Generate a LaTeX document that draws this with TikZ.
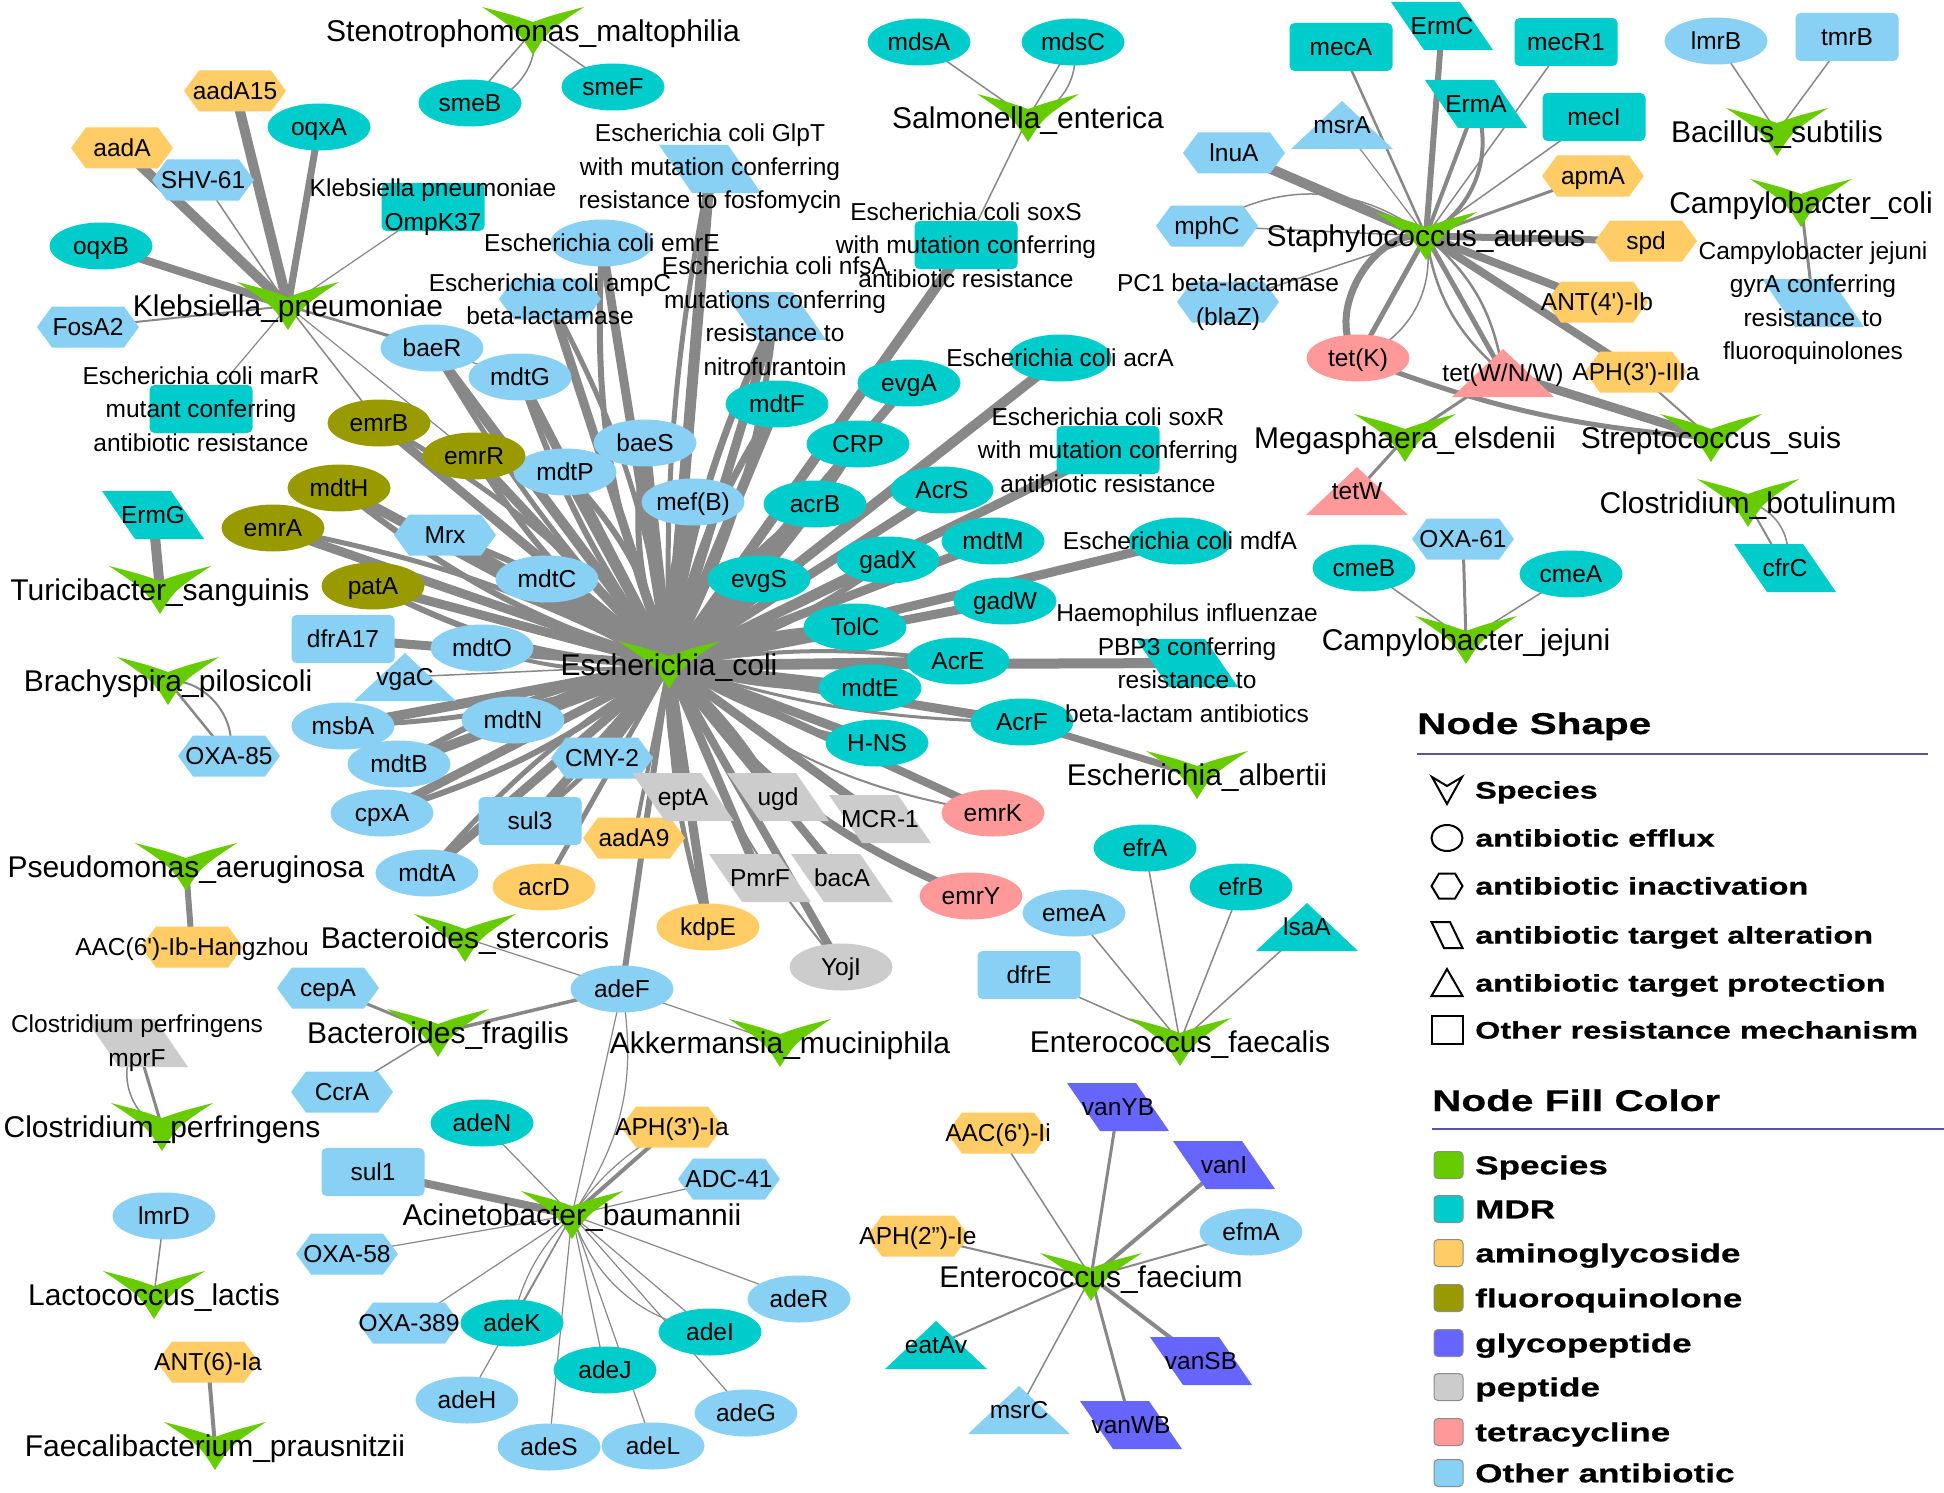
\documentclass[tikz,border=0pt]{standalone}
\usepackage{fontspec}
\setmainfont{Liberation Sans}
\newfontfamily\legf[FakeStretch=1.35,FakeBold=0.6]{Liberation Sans}
\usetikzlibrary{shapes.geometric}
\pgfdeclarelayer{edges}
\pgfdeclarelayer{labels}
\pgfsetlayers{edges,main,labels}
\definecolor{spc}{RGB}{102,204,0}
\definecolor{mdr}{RGB}{0,204,204}
\definecolor{ami}{RGB}{255,204,102}
\definecolor{flq}{RGB}{153,153,0}
\definecolor{gly}{RGB}{102,102,255}
\definecolor{pep}{RGB}{204,204,204}
\definecolor{tet}{RGB}{255,153,153}
\definecolor{oth}{RGB}{137,208,245}
\definecolor{edg}{RGB}{136,136,136}
\definecolor{legc}{RGB}{85,85,165}
\newcommand\sq{\textquotesingle}
\tikzset{
 shE/.pic={\fill[#1] (0,0) ellipse [x radius=51.5, y radius=23.5];},
 shH/.pic={\fill[#1] (-51,0) -- (-36,-20.5) -- (36,-20.5) -- (51,0) -- (36,20.5) -- (-36,20.5) -- cycle;},
 shP/.pic={\fill[#1] (-51,-24) -- (18,-24) -- (51,24) -- (-18,24) -- cycle;},
 shT/.pic={\fill[#1] (0,-24) -- (51,24) -- (-51,24) -- cycle;},
 shR/.pic={\fill[#1,rounded corners=5pt] (-51.5,-24) rectangle (51.5,24);},
 shV/.pic={\fill[#1] (-51,-24) .. controls (-20,-16) .. (0,-9) .. controls (20,-16) .. (51,-24) .. controls (15,0) .. (0,24) .. controls (-15,0) .. cycle;},
}
\newcommand\mkg[6]{\pic at (#2,#3) {#4=#5};\node[gbox] (#1) at (#2,#3) {};\begin{pgfonlayer}{labels}\node[glab] (#1-t) at (#2,#3) {#6};\end{pgfonlayer}}
\newcommand\mkgm[6]{\pic at (#2,#3) {#4=#5};\node[gbox] (#1) at (#2,#3) {};\begin{pgfonlayer}{labels}\node[glabm] (#1-t) at (#2,#3) {#6};\end{pgfonlayer}}
\newcommand\mks[4]{\pic at (#2,#3) {shV=spc};\node[gbox] (#1) at (#2,#3) {};\begin{pgfonlayer}{labels}\node[slab] (#1-t) at (#2,#3) {#4};\end{pgfonlayer}}
\begin{document}
\begin{tikzpicture}[x=1pt,y=-1pt,
 ed/.style={draw=edg,line width=#1},
 gbox/.style={rectangle,inner sep=0pt,minimum width=100pt,minimum height=46pt},
 glab/.style={font=\fontsize{24.5}{33.5}\selectfont,inner sep=0pt,text height=17.5pt,text depth=0pt},
 glabm/.style={font=\fontsize{24.5}{33.5}\selectfont,inner sep=0pt,align=center},
 slab/.style={font=\fontsize{30}{36}\selectfont,inner sep=0pt,text height=21.5pt,text depth=0pt},
 legt/.style={font=\legf\bfseries\fontsize{30}{36}\selectfont,inner sep=0pt,anchor=base west},
 legs/.style={font=\legf\bfseries\fontsize{24}{29}\selectfont,inner sep=0pt,anchor=base west},
 legk/.style={font=\legf\bfseries\fontsize{26}{31}\selectfont,inner sep=0pt,anchor=base west},
 lsym/.style={draw=black,line width=2pt},
 lbox/.style={draw=black!45,line width=1pt,rounded corners=4pt}]
\begin{pgfonlayer}{edges}
\fill[white] (0,0) rectangle (1944,1493);
\end{pgfonlayer}
\useasboundingbox (0,0) rectangle (1944,1493);

% ---------- species ----------
\mks{sm}{533}{31}{Stenotrophomonas\_maltophilia}
\mks{se}{1028}{118}{Salmonella\_enterica}
\mks{sa}{1426}{236}{Staphylococcus\_aureus}
\mks{bs}{1777}{132}{Bacillus\_subtilis}
\mks{cc}{1801}{203}{Campylobacter\_coli}
\mks{kp}{288}{306}{Klebsiella\_pneumoniae}
\mks{ec}{669}{665}{Escherichia\_coli}
\mks{me}{1405}{438}{Megasphaera\_elsdenii}
\mks{ss}{1711}{438}{Streptococcus\_suis}
\mks{cb}{1748}{503}{Clostridium\_botulinum}
\mks{ts}{160}{590}{Turicibacter\_sanguinis}
\mks{bp}{168}{681}{Brachyspira\_pilosicoli}
\mks{pa}{186}{867}{Pseudomonas\_aeruginosa}
\mks{bst}{465}{938}{Bacteroides\_stercoris}
\mks{bf}{438}{1033}{Bacteroides\_fragilis}
\mks{am}{780}{1043}{Akkermansia\_muciniphila}
\mks{cp}{162}{1127}{Clostridium\_perfringens}
\mks{ll}{154}{1295}{Lactococcus\_lactis}
\mks{fp}{215}{1446}{Faecalibacterium\_prausnitzii}
\mks{ab}{572}{1215}{Acinetobacter\_baumannii}
\mks{efs}{1180}{1042}{Enterococcus\_faecalis}
\mks{efm}{1091}{1277}{Enterococcus\_faecium}
\mks{ea}{1197}{775}{Escherichia\_albertii}
\mks{cj}{1466}{640}{Campylobacter\_jejuni}

% ---------- Klebsiella ----------
\mkg{aadAf}{235}{91}{shH}{ami}{aadA15}
\mkg{aadA}{122}{148}{shH}{ami}{aadA}
\mkg{oqxA}{319}{127}{shE}{mdr}{oqxA}
\mkg{shv}{203}{180}{shH}{oth}{SHV-61}
\mkg{oqxB}{101}{246}{shE}{mdr}{oqxB}
\mkg{fosA}{88}{327}{shH}{oth}{FosA2}
\mkgm{omp}{433}{207}{shR}{mdr}{Klebsiella pneumoniae\\OmpK37}
\mkgm{marR}{201}{409}{shR}{mdr}{Escherichia coli marR\\mutant conferring\\antibiotic resistance}
% ---------- Steno / Salmonella ----------
\mkg{smeB}{470}{103}{shE}{mdr}{smeB}
\mkg{smeF}{613}{87}{shE}{mdr}{smeF}
\mkg{mdsA}{919}{42}{shE}{mdr}{mdsA}
\mkg{mdsC}{1073}{42}{shE}{mdr}{mdsC}
\mkgm{soxS}{966}{245}{shR}{mdr}{Escherichia coli soxS\\with mutation conferring\\antibiotic resistance}
% ---------- Staph ----------
\mkg{mecA}{1341}{47}{shR}{mdr}{mecA}
\mkg{ermC}{1442}{26}{shP}{mdr}{ErmC}
\mkg{ermA}{1476}{104}{shP}{mdr}{ErmA}
\mkg{mecRa}{1566}{42}{shR}{mdr}{mecR1}
\mkg{mecI}{1594}{117}{shR}{mdr}{mecI}
\mkg{msrA}{1342}{125}{shT}{oth}{msrA}
\mkg{lnuA}{1234}{153}{shH}{oth}{lnuA}
\mkg{mphC}{1207}{226}{shH}{oth}{mphC}
\mkgm{blaZ}{1228}{302}{shH}{oth}{PC1 beta-lactamase\\(blaZ)}
\mkg{apmA}{1593}{176}{shH}{ami}{apmA}
\mkg{spd}{1646}{241}{shH}{ami}{spd}
\mkg{antb}{1597}{302}{shH}{ami}{ANT(4\sq)-Ib}
\mkg{aphc}{1636}{372}{shH}{ami}{APH(3\sq)-IIIa}
\mkg{tetK}{1358}{358}{shE}{tet}{tet(K)}
\mkg{tetWNW}{1503}{373}{shT}{tet}{tet(W/N/W)}
\mkg{tetW}{1357}{491}{shT}{tet}{tetW}
% ---------- right top ----------
\mkgm{gyrA}{1813}{303}{shP}{oth}{Campylobacter jejuni\\gyrA conferring\\resistance to\\fluoroquinolones}
\mkg{lmrB}{1716}{41}{shE}{oth}{lmrB}
\mkg{tmrB}{1847}{37}{shR}{oth}{tmrB}
\mkg{cfrC}{1785}{568}{shP}{mdr}{cfrC}
\mkg{oxasi}{1463}{539}{shH}{oth}{OXA-61}
\mkg{cmeB}{1364}{568}{shE}{mdr}{cmeB}
\mkg{cmeA}{1571}{574}{shE}{mdr}{cmeA}
% ---------- E. coli ----------
\mkgm{glpT}{710}{169}{shP}{oth}{Escherichia coli GlpT\\with mutation conferring\\resistance to fosfomycin}
\mkg{emrE}{602}{243}{shE}{oth}{Escherichia coli emrE}
\mkgm{ampC}{550}{299}{shH}{oth}{Escherichia coli ampC\\beta-lactamase}
\mkgm{nfsA}{775}{316}{shP}{oth}{Escherichia coli nfsA\\mutations conferring\\resistance to\\nitrofurantoin}
\mkg{acrA}{1060}{358}{shE}{mdr}{Escherichia coli acrA}
\mkgm{soxR}{1108}{450}{shR}{mdr}{Escherichia coli soxR\\with mutation conferring\\antibiotic resistance}
\mkg{mdfA}{1180}{541}{shE}{mdr}{Escherichia coli mdfA}
\mkgm{hae}{1187}{663}{shP}{mdr}{Haemophilus influenzae\\PBP3 conferring\\resistance to\\beta-lactam antibiotics}
\mkg{baeR}{432}{348}{shE}{oth}{baeR}
\mkg{mdtG}{520}{377}{shE}{oth}{mdtG}
\mkg{baeS}{645}{443}{shE}{oth}{baeS}
\mkg{mdtP}{565}{472}{shE}{oth}{mdtP}
\mkg{mdtF}{777}{404}{shE}{mdr}{mdtF}
\mkg{evgA}{909}{383}{shE}{mdr}{evgA}
\mkg{crp}{858}{444}{shE}{mdr}{CRP}
\mkg{emrB}{379}{423}{shE}{flq}{emrB}
\mkg{emrR}{474}{456}{shE}{flq}{emrR}
\mkg{mdtH}{339}{488}{shE}{flq}{mdtH}
\mkg{emrA}{273}{528}{shE}{flq}{emrA}
\mkg{mrx}{445}{535}{shH}{oth}{Mrx}
\mkg{patA}{373}{586}{shE}{flq}{patA}
\mkg{mdtC}{547}{579}{shE}{oth}{mdtC}
\mkg{dfr}{343}{639}{shR}{oth}{dfrA17}
\mkg{mdtO}{482}{648}{shE}{oth}{mdtO}
\mkg{vgaC}{405}{677}{shT}{oth}{vgaC}
\mkg{msbA}{343}{726}{shE}{oth}{msbA}
\mkg{mdtN}{513}{720}{shE}{oth}{mdtN}
\mkg{mdtB}{399}{764}{shE}{oth}{mdtB}
\mkg{cmy}{602}{758}{shH}{oth}{CMY-2}
\mkg{cpxA}{382}{813}{shE}{oth}{cpxA}
\mkg{sulc}{530}{821}{shR}{oth}{sul3}
\mkg{aadAn}{634}{838}{shH}{ami}{aadA9}
\mkg{mdtA}{427}{873}{shE}{oth}{mdtA}
\mkg{acrD}{544}{887}{shE}{ami}{acrD}
\mkg{kdpE}{708}{927}{shE}{ami}{kdpE}
\mkg{yojI}{841}{967}{shE}{pep}{YojI}
\mkg{eptA}{683}{797}{shP}{pep}{eptA}
\mkg{ugd}{778}{797}{shP}{pep}{ugd}
\mkg{mcr}{880}{819}{shP}{pep}{MCR-1}
\mkg{pmrF}{760}{878}{shP}{pep}{PmrF}
\mkg{bacA}{842}{878}{shP}{pep}{bacA}
\mkg{emrK}{993}{813}{shE}{tet}{emrK}
\mkg{emrY}{971}{896}{shE}{tet}{emrY}
\mkg{mefB}{693}{502}{shE}{oth}{mef(B)}
\mkg{acrB}{815}{504}{shE}{mdr}{acrB}
\mkg{acrS}{942}{490}{shE}{mdr}{AcrS}
\mkg{evgS}{759}{579}{shE}{mdr}{evgS}
\mkg{gadX}{888}{560}{shE}{mdr}{gadX}
\mkg{mdtM}{993}{541}{shE}{mdr}{mdtM}
\mkg{gadW}{1005}{601}{shE}{mdr}{gadW}
\mkg{tolC}{855}{627}{shE}{mdr}{TolC}
\mkg{acrE}{958}{661}{shE}{mdr}{AcrE}
\mkg{mdtE}{870}{688}{shE}{mdr}{mdtE}
\mkg{acrF}{1022}{722}{shE}{mdr}{AcrF}
\mkg{hns}{877}{743}{shE}{mdr}{H-NS}
\mkg{adeF}{622}{989}{shE}{oth}{adeF}
% ---------- left ----------
\mkg{ermG}{153}{515}{shP}{mdr}{ErmG}
\mkg{oxaef}{229}{756}{shH}{oth}{OXA-85}
\mkg{aacH}{192}{947}{shH}{ami}{AAC(6\sq)-Ib-Hangzhou}
\mkg{cepA}{328}{988}{shH}{oth}{cepA}
\mkg{ccrA}{342}{1092}{shH}{oth}{CcrA}
\mkgm{mprF}{137}{1043}{shP}{pep}{Clostridium perfringens\\mprF}
\mkg{lmrD}{164}{1216}{shE}{oth}{lmrD}
\mkg{antsix}{208}{1362}{shH}{ami}{ANT(6)-Ia}
% ---------- Acinetobacter ----------
\mkg{adeN}{482}{1123}{shE}{mdr}{adeN}
\mkg{sula}{373}{1172}{shR}{oth}{sul1}
\mkg{aphA}{672}{1127}{shH}{ami}{APH(3\sq)-Ia}
\mkg{adc}{729}{1179}{shH}{oth}{ADC-41}
\mkg{oxaff}{347}{1254}{shH}{oth}{OXA-58}
\mkg{oxatne}{409}{1323}{shH}{oth}{OXA-389}
\mkg{adeK}{512}{1323}{shE}{mdr}{adeK}
\mkg{adeH}{467}{1400}{shE}{oth}{adeH}
\mkg{adeJ}{605}{1370}{shE}{mdr}{adeJ}
\mkg{adeI}{710}{1332}{shE}{mdr}{adeI}
\mkg{adeR}{799}{1299}{shE}{oth}{adeR}
\mkg{adeG}{746}{1413}{shE}{oth}{adeG}
\mkg{adeS}{549}{1447}{shE}{oth}{adeS}
\mkg{adeL}{653}{1446}{shE}{oth}{adeL}
% ---------- Enterococcus ----------
\mkg{efrA}{1145}{848}{shE}{mdr}{efrA}
\mkg{efrB}{1241}{887}{shE}{mdr}{efrB}
\mkg{lsaA}{1307}{927}{shT}{mdr}{lsaA}
\mkg{emeA}{1074}{913}{shE}{oth}{emeA}
\mkg{dfrE}{1029}{975}{shR}{oth}{dfrE}
\mkg{vanYB}{1118}{1107}{shP}{gly}{vanYB}
\mkg{vanI}{1224}{1165}{shP}{gly}{vanI}
\mkg{efmA}{1251}{1232}{shE}{oth}{efmA}
\mkg{aacIi}{998}{1133}{shH}{ami}{AAC(6\sq)-Ii}
\mkg{aphE}{918}{1236}{shH}{ami}{APH(2")-Ie}
\mkg{eatAv}{936}{1345}{shT}{mdr}{eatAv}
\mkg{msrC}{1019}{1410}{shT}{oth}{msrC}
\mkg{vanSB}{1201}{1361}{shP}{gly}{vanSB}
\mkg{vanWB}{1131}{1425}{shP}{gly}{vanWB}

% ---------- edges ----------
\begin{pgfonlayer}{edges}
\foreach \t/\w in {glpT/11,emrE/9,ampC/9,nfsA/9,soxS/10,acrA/10,soxR/9,mdfA/9,hae/10,baeR/10,mdtG/9,baeS/10,mdtP/10,mdtF/10,evgA/9,crp/10,emrB/9,emrR/9,mdtH/10,emrA/9,mrx/10,patA/9,mdtC/10,dfr/9,mdtO/6,vgaC/1.5,msbA/10,mdtN/10,mdtB/10,cmy/9,cpxA/9,sulc/9,aadAn/4,mdtA/9,acrD/5,kdpE/9,yojI/8,eptA/10,ugd/10,mcr/9,pmrF/9,bacA/8,emrK/8,mefB/10,acrB/10,acrS/9,evgS/10,gadX/10,mdtM/9,gadW/9,tolC/10,acrE/9,mdtE/10,acrF/9,hns/9,adeF/6}
  \draw[ed=\w] (ec.center) -- (\t.center);
\foreach \t/\w/\b in {emrE/6/12,nfsA/7/8,mdtF/7/10,baeS/6/15,mdtH/6/10,patA/6/12,acrE/4/8,mdtC/6/10,cpxA/6/10,acrB/6/10,mdtG/6/8,baeR/5/6,emrR/6/10,msbA/5/8,mefB/6/12,evgS/6/10,tolC/5/10,ugd/6/8,sulc/5/10,mdtO/4/12,glpT/5/6}
  \draw[ed=\w] (ec.center) to[bend left=\b] (\t.center);
\foreach \t/\w/\b in {ampC/5/10,nfsA/6/10,mdtP/6/15,yojI/2/10,emrK/2/15,emrY/8/15,acrF/3/8,hns/2/10,mdtB/6/10,gadX/6/10,emrA/5/8,emrB/5/10,mrx/6/10,mdtN/6/8,eptA/6/8,kdpE/5/8,cmy/5/12,mdtE/5/8,crp/5/8,mdtA/5/8}
  \draw[ed=\w] (ec.center) to[bend right=\b] (\t.center);
% Klebsiella
\foreach \t/\w in {aadAf/10,aadA/10,oqxA/7,shv/1.5,oqxB/8,fosA/2,omp/1.2,marR/1.2,baeR/2.5,emrB/1.5,emrR/1.2,mdtG/1.2}
  \draw[ed=\w] (kp.center) -- (\t.center);
% Steno, Salmonella
\draw[ed=1.5] (sm.center) -- (smeB.center);
\draw[ed=1.5] (sm.center) to[bend left=55] (smeB.center);
\draw[ed=1.5] (sm.center) -- (smeF.center);
\draw[ed=1.5] (se.center) -- (mdsA.center);
\draw[ed=1.5] (se.center) -- (mdsC.center);
\draw[ed=1.5] (se.center) to[bend right=45] (mdsC.center);
\draw[ed=1.5] (se.center) -- (soxS.center);
% Staph
\foreach \t/\w in {mecA/2.5,ermC/6,ermA/4,mecRa/1.5,mecI/1.5,msrA/1.2,lnuA/10,mphC/1.5,blaZ/1.5,apmA/3,spd/7,antb/8,aphc/8,tetK/5,tetWNW/5}
  \draw[ed=\w] (sa.center) -- (\t.center);
\draw[ed=4] (ermA.center) to[bend left=40] (sa.center);
\draw[ed=1.5] (mphC.center) to[bend left=35] (sa.center);
\draw[ed=7] (tetK.center) to[bend left=70] (sa.center);
\draw[ed=1.5] (tetK.center) to[bend right=40] (sa.center);
\draw[ed=2.5] (sa.center) to[bend left=20] (tetWNW.center);
\draw[ed=2.5] (sa.center) to[bend right=20] (tetWNW.center);
\draw[ed=3] (me.center) -- (tetWNW.center);
\draw[ed=3] (me.center) -- (tetW.center);
\draw[ed=9] (ss.center) -- (tetWNW.center);
\draw[ed=2] (ss.center) -- (aphc.center);
\draw[ed=5] (tetK.center) to[bend right=8] (ss.center);
% right top
\draw[ed=1.5] (bs.center) -- (lmrB.center);
\draw[ed=1.5] (bs.center) -- (tmrB.center);
\draw[ed=3] (cc.center) -- (gyrA.center);
\draw[ed=2] (cb.center) -- (cfrC.center);
\draw[ed=1.5] (cb.center) to[bend left=50] (cfrC.center);
\draw[ed=3] (cj.center) -- (oxasi.center);
\draw[ed=1.5] (cj.center) -- (cmeB.center);
\draw[ed=1.5] (cj.center) -- (cmeA.center);
\draw[ed=7] (ea.center) -- (acrF.center);
% left
\draw[ed=10] (ts.center) -- (ermG.center);
\draw[ed=2.5] (bp.center) -- (oxaef.center);
\draw[ed=2] (bp.center) to[bend left=55] (oxaef.center);
\draw[ed=6] (pa.center) -- (aacH.center);
\draw[ed=3] (bf.center) -- (cepA.center);
\draw[ed=1.5] (bf.center) -- (ccrA.center);
\draw[ed=3.5] (bf.center) -- (adeF.center);
\draw[ed=1.2] (bst.center) -- (adeF.center);
\draw[ed=1.2] (am.center) -- (adeF.center);
\draw[ed=3] (cp.center) -- (mprF.center);
\draw[ed=1.5] (cp.center) to[bend left=55] (mprF.center);
\draw[ed=1.5] (ll.center) -- (lmrD.center);
\draw[ed=4] (fp.center) -- (antsix.center);
% Acinetobacter
\foreach \t/\w in {sula/8,aphA/4,adeN/1.2,adc/1.2,oxaff/1.2,oxatne/1.2,adeK/1.2,adeH/1.2,adeJ/1.2,adeI/1.2,adeR/1.2,adeG/1.2,adeS/1.2,adeL/1.2,adeF/1.2}
  \draw[ed=\w] (ab.center) -- (\t.center);
\draw[ed=1.2] (ab.center) to[bend right=22] (adeF.center);
\draw[ed=1.2] (ab.center) to[bend right=30] (adeI.center);
\draw[ed=1.2] (ab.center) to[bend right=15] (adeK.center);
\draw[ed=1.2] (ab.center) to[bend left=12] (aphA.center);
% Enterococcus
\foreach \t/\w in {efrA/1.5,efrB/1.5,lsaA/1.5,emeA/1.5,dfrE/1.5}
  \draw[ed=\w] (efs.center) -- (\t.center);
\foreach \t/\w in {vanYB/3,vanI/4,efmA/2,aacIi/1.5,aphE/2,eatAv/2,msrC/1.5,vanSB/4,vanWB/3}
  \draw[ed=\w] (efm.center) -- (\t.center);
\end{pgfonlayer}

% ---------- legend ----------
\node[legt] (lgA) at (1417,734) {Node Shape};
\draw[legc,line width=2pt] (1417,754) -- (1928,754);
\draw[lsym,line join=miter] (1432,777) -- (1447,786) -- (1462,777) -- (1447,804) -- cycle;
\draw[lsym] (1447,838) ellipse [x radius=15.5, y radius=13];
\draw[lsym] (1431.5,886) -- (1439,873.5) -- (1455,873.5) -- (1462.5,886) -- (1455,898.5) -- (1439,898.5) -- cycle;
\draw[lsym] (1431.5,922) -- (1450,922) -- (1462.5,948) -- (1444,948) -- cycle;
\draw[lsym] (1447,969) -- (1462.5,996) -- (1431.5,996) -- cycle;
\draw[lsym] (1431.5,1016) rectangle (1462.5,1044);
\node[legs] (lgA1) at (1475,798.6) {Species};
\node[legs] (lgA2) at (1475,846.6) {antibiotic efflux};
\node[legs] (lgA3) at (1475,894.6) {antibiotic inactivation};
\node[legs] (lgA4) at (1475,943.6) {antibiotic target alteration};
\node[legs] (lgA5) at (1475,991.6) {antibiotic target protection};
\node[legs] (lgA6) at (1475,1038.6) {Other resistance mechanism};
\node[legt] (lgB) at (1432,1111) {Node Fill Color};
\draw[legc,line width=2pt] (1432,1129) -- (1944,1129);
\foreach \c/\yy/\tx [count=\i] in {spc/1165/Species,mdr/1209/MDR,ami/1253/aminoglycoside,flq/1298/fluoroquinolone,gly/1343/glycopeptide,pep/1387/peptide,tet/1432/tetracycline,oth/1473/Other antibiotic}{
  \draw[lbox,fill=\c] (1434,\yy-13.5) rectangle (1463,\yy+13.5);
  \node[legk] (lgB\i) at (1475,\yy+9.3) {\tx};
}
\end{tikzpicture}
\end{document}
